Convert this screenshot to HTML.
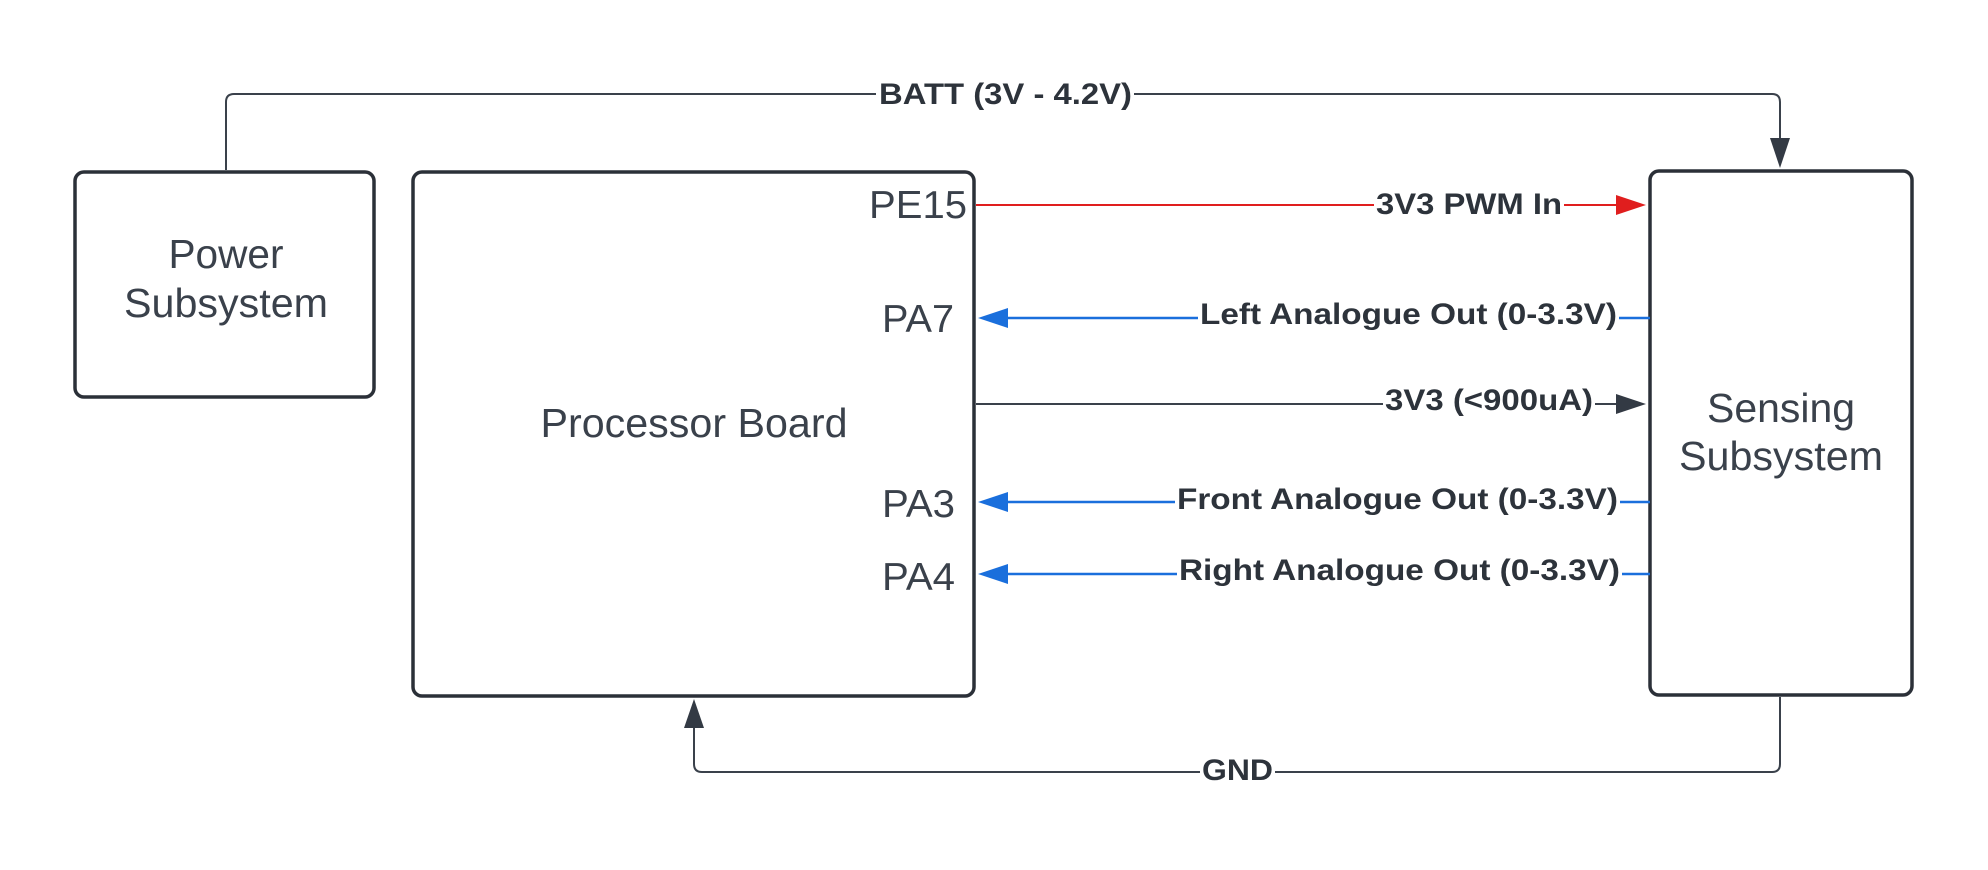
<!DOCTYPE html>
<html><head><meta charset="utf-8"><style>
html,body{margin:0;padding:0;background:#fff;}
svg{display:block;}
text{font-family:"Liberation Sans",Arial,sans-serif;}
.lbl{font-weight:bold;font-size:30px;fill:#2d333b;}
.box{font-size:41px;fill:#3a414b;}
.pin{font-size:39px;fill:#3a414b;}
</style></head><body>
<svg width="1988" height="870" viewBox="0 0 1988 870" xmlns="http://www.w3.org/2000/svg">
<rect width="1988" height="870" fill="#fff"/>
<rect x="75" y="172" width="299" height="225" rx="9" fill="#fff" stroke="#2b3038" stroke-width="3.5"/>
<rect x="413" y="172" width="561" height="524" rx="9" fill="#fff" stroke="#2b3038" stroke-width="3.5"/>
<rect x="1650" y="171" width="262" height="524" rx="9" fill="#fff" stroke="#2b3038" stroke-width="3.5"/>

<path d="M226 170 V102 Q226 94 234 94 H1772 Q1780 94 1780 102 V140" fill="none" stroke="#3a414b" stroke-width="2"/>
<polygon points="1770,138 1790,138 1780,168" fill="#333a44"/>
<rect x="876" y="78" width="258" height="32" fill="#fff"/>
<text class="lbl" x="879" y="104" textLength="253" lengthAdjust="spacingAndGlyphs">BATT (3V - 4.2V)</text>

<line x1="976" y1="205" x2="1618" y2="205" stroke="#e01e1e" stroke-width="2"/>
<polygon points="1616,195 1646,205 1616,215" fill="#e01e1e"/>
<rect x="1374" y="188" width="190" height="32" fill="#fff"/>
<text class="lbl" x="1376" y="214" textLength="186" lengthAdjust="spacingAndGlyphs">3V3 PWM In</text>

<line x1="1006" y1="318" x2="1650" y2="318" stroke="#1a6fdc" stroke-width="2.5"/>
<polygon points="978,318 1008,308 1008,328" fill="#1a6fdc"/>
<rect x="1198" y="300" width="421" height="34" fill="#fff"/>
<text class="lbl" x="1200" y="324" textLength="417" lengthAdjust="spacingAndGlyphs">Left Analogue Out (0-3.3V)</text>

<line x1="976" y1="404" x2="1618" y2="404" stroke="#3a414b" stroke-width="2"/>
<polygon points="1616,394 1646,404 1616,414" fill="#333a44"/>
<rect x="1383" y="384" width="212" height="34" fill="#fff"/>
<text class="lbl" x="1385" y="410" textLength="208" lengthAdjust="spacingAndGlyphs">3V3 (&lt;900uA)</text>

<line x1="1006" y1="502" x2="1650" y2="502" stroke="#1a6fdc" stroke-width="2.5"/>
<polygon points="978,502 1008,492 1008,512" fill="#1a6fdc"/>
<rect x="1175" y="484" width="445" height="34" fill="#fff"/>
<text class="lbl" x="1177" y="509" textLength="441" lengthAdjust="spacingAndGlyphs">Front Analogue Out (0-3.3V)</text>

<line x1="1006" y1="574" x2="1650" y2="574" stroke="#1a6fdc" stroke-width="2.5"/>
<polygon points="978,574 1008,564 1008,584" fill="#1a6fdc"/>
<rect x="1177" y="555" width="445" height="34" fill="#fff"/>
<text class="lbl" x="1179" y="580" textLength="441" lengthAdjust="spacingAndGlyphs">Right Analogue Out (0-3.3V)</text>

<path d="M1780 697 V764 Q1780 772 1772 772 H702 Q694 772 694 764 V728" fill="none" stroke="#3a414b" stroke-width="2"/>
<polygon points="684,728 704,728 694,699" fill="#333a44"/>
<rect x="1200" y="756" width="75" height="32" fill="#fff"/>
<text class="lbl" x="1202" y="780" textLength="71" lengthAdjust="spacingAndGlyphs">GND</text>

<text class="box" x="226" y="268" text-anchor="middle" textLength="115" lengthAdjust="spacingAndGlyphs">Power</text>
<text class="box" x="226" y="317" text-anchor="middle" textLength="204" lengthAdjust="spacingAndGlyphs">Subsystem</text>
<text class="box" x="694" y="437" text-anchor="middle" textLength="307" lengthAdjust="spacingAndGlyphs">Processor Board</text>
<text class="box" x="1781" y="422" text-anchor="middle" textLength="148" lengthAdjust="spacingAndGlyphs">Sensing</text>
<text class="box" x="1781" y="470" text-anchor="middle" textLength="204" lengthAdjust="spacingAndGlyphs">Subsystem</text>

<text class="pin" x="967" y="218" text-anchor="end" textLength="98" lengthAdjust="spacingAndGlyphs">PE15</text>
<text class="pin" x="954" y="332" text-anchor="end" textLength="72" lengthAdjust="spacingAndGlyphs">PA7</text>
<text class="pin" x="955" y="517" text-anchor="end" textLength="73" lengthAdjust="spacingAndGlyphs">PA3</text>
<text class="pin" x="955" y="590" text-anchor="end" textLength="73" lengthAdjust="spacingAndGlyphs">PA4</text>
</svg>
</body></html>
